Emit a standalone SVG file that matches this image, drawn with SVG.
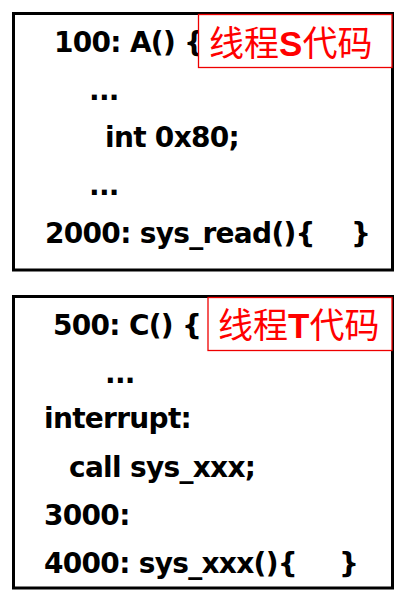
<svg xmlns="http://www.w3.org/2000/svg" width="404" height="597" viewBox="0 0 404 597">
<style>
.box{fill:#fff;stroke:#000;stroke-width:3}
.lbl{fill:#fff;stroke:#e00;stroke-width:1.3}
.code{font-family:"DejaVu Sans",Verdana,sans-serif;font-weight:bold;font-size:28px;letter-spacing:-0.7px;fill:#000}
.red{font-family:"Noto Sans CJK SC","Noto Sans CJK TC",sans-serif;font-size:35px;fill:#f00}
.rb{font-family:"Liberation Sans",Arial,sans-serif;font-weight:bold}
</style>
<rect width="404" height="597" fill="#fff"/>
<g id="threadS">
<rect class="box" x="13.5" y="13.5" width="379" height="256.5"/>
<text class="code" x="54" y="52">100: A() {</text>
<text class="code" x="89" y="100">...</text>
<text class="code" x="105" y="147">int 0x80;</text>
<text class="code" x="89" y="195">...</text>
<text class="code" x="45" y="243">2000: sys_read(){<tspan x="351">}</tspan></text>
<rect class="lbl" x="198.5" y="14.5" width="193.5" height="53"/>
<text class="red" x="209" y="55.5">线程<tspan class="rb">S</tspan>代码</text>
</g>
<g id="threadT">
<rect class="box" x="13.5" y="296.5" width="379" height="291.5"/>
<text class="code" x="53" y="335">500: C() {</text>
<text class="code" x="105" y="383">...</text>
<text class="code" x="44" y="428">interrupt:</text>
<text class="code" x="69" y="477">call sys_xxx;</text>
<text class="code" x="44" y="525">3000:</text>
<text class="code" x="44" y="573">4000: sys_xxx(){<tspan x="339">}</tspan></text>
<rect class="lbl" x="208" y="297.5" width="184" height="53"/>
<text class="red" x="218" y="337.5">线程<tspan class="rb">T</tspan>代码</text>
</g>
<g id="connectors"/>
</svg>
